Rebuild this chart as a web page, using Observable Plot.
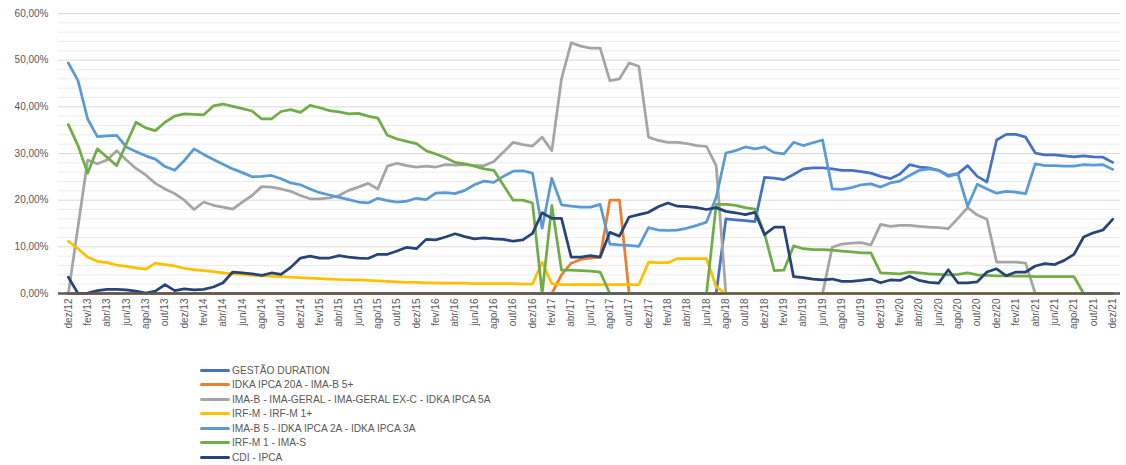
<!DOCTYPE html>
<html><head><meta charset="utf-8">
<script src="https://cdn.jsdelivr.net/npm/d3@7"></script>
<script src="https://cdn.jsdelivr.net/npm/@observablehq/plot@0.6"></script>
<style>
body{margin:0;background:#fff;font-family:"Liberation Sans",Arial,sans-serif;}
#legend{margin-left:200px;margin-top:17.75px;font-size:10.2px;color:#595959;}
.row{display:flex;align-items:center;height:14.5px;white-space:nowrap;}
.sw{width:30px;height:3px;margin-right:2px;border-radius:1.5px;}
</style></head>
<body>
<div id="chart"></div>
<div id="legend"></div>
<script>
const monthNames = ["jan","fev","mar","abr","mai","jun","jul","ago","set","out","nov","dez"];
const years = ["12","13","14","15","16","17","18","19","20","21"];
const months = [];
years.forEach((y, yi) => monthNames.forEach((m, mi) => { if (yi > 0 || mi === 11) months.push(m + "/" + y); }));
const tickMonths = months.filter((d, i) => i % 2 === 0);

const seriesNames = [
  "GESTÃO DURATION",
  "IDKA IPCA 20A - IMA-B 5+",
  "IMA-B - IMA-GERAL - IMA-GERAL EX-C - IDKA IPCA 5A",
  "IRF-M - IRF-M 1+",
  "IMA-B 5 - IDKA IPCA 2A - IDKA IPCA 3A",
  "IRF-M 1 - IMA-S",
  "CDI - IPCA"
];
const seriesColors = ["#4472C4","#ED7D31","#A5A5A5","#FFC000","#5B9BD5","#70AD47","#264478"];

const gestaoDuration = [
 0,0,0,0,0,0,0,0,0,0, 0,0,0,0,0,0,0,0,0,0, 0,0,0,0,0,0,0,0,0,0,
 0,0,0,0,0,0,0,0,0,0, 0,0,0,0,0,0,0,0,0,0, 0,0,0,0,0,0,0,0,0,0,
 0,0,0,0,0,0,0,0,
 16.0,15.8,15.6,15.4,24.9,24.7,24.4,25.5,26.7,26.9,26.9,26.7,26.4,26.4,26.1,25.8,25.1,24.6,25.6,27.6,
 27.1,26.9,26.4,25.3,25.7,27.4,25.1,23.9,32.9,34.1,34.1,33.5,30.1,29.7,29.7,29.5,29.3,29.5,29.3,29.2,28.1];
const idkaIpca20A = [
 0,0,0,0,0,0,0,0,0,0, 0,0,0,0,0,0,0,0,0,0, 0,0,0,0,0,0,0,0,0,0,
 0,0,0,0,0,0,0,0,0,0, 0,0,0,0,0,0,0,0,0,0, 0,
 4.0,6.5,7.3,7.6,7.8,20.0,20.0,0,
 0,0,0,0,0,0,0,0,0,0, 0,0,0,0,0,0,0,0,0,0, 0,0,0,0,0,0,0,0,0,0,
 0,0,0,0,0,0,0,0,0,0, 0,0,0,0,0,0,0,0,0,0];
const imaB = [
 0,14.3,28.6,27.8,28.6,30.6,28.6,26.8,25.4,23.6,22.4,21.4,20.0,18.0,19.6,18.9,18.5,18.1,19.6,21.0,
 22.9,22.8,22.4,21.9,21.0,20.3,20.3,20.5,21.0,22.1,22.8,23.6,22.4,27.3,27.9,27.4,27.1,27.3,27.1,27.6,
 27.5,27.6,27.4,27.4,28.3,30.3,32.4,31.9,31.6,33.5,30.6,46.0,53.7,53.0,52.6,52.6,45.6,46.0,49.4,48.7,
 33.5,32.8,32.4,32.4,32.1,31.7,31.5,27.4,0,0,0,0,0,0,0,0,0,0,0,9.9,
 10.6,10.8,10.9,10.4,14.8,14.4,14.6,14.6,14.4,14.2,14.1,13.9,16.1,18.4,16.8,15.9,6.7,6.7,6.7,6.5,
 0,0,0,0,0,0,0,0,0];
const irfM = [
 11.2,9.6,7.8,6.9,6.6,6.1,5.8,5.5,5.2,6.5,6.2,5.9,5.4,5.1,4.9,4.7,4.4,4.2,4.1,3.9,
 3.8,3.7,3.6,3.5,3.4,3.3,3.2,3.1,3.0,2.9,2.9,2.8,2.7,2.6,2.5,2.4,2.4,2.3,2.3,2.2,
 2.2,2.2,2.1,2.1,2.1,2.1,2.1,2.0,2.0,6.7,2.1,1.9,1.9,1.9,1.9,1.9,1.9,1.9,1.9,1.9,
 6.7,6.6,6.6,7.5,7.5,7.5,7.5,1.4,
 0,0,0,0,0,0,0,0,0,0, 0,0,0,0,0,0,0,0,0,0, 0,0,0,0,0,0,0,0,0,0,
 0,0,0,0,0,0,0,0,0,0,0];
const imaB5 = [
 49.4,45.6,37.4,33.6,33.8,33.9,31.4,30.4,29.5,28.8,27.2,26.4,28.5,31.0,29.8,28.7,27.7,26.7,25.9,25.0,
 25.1,25.3,24.6,23.7,23.3,22.4,21.6,21.1,20.6,20.1,19.6,19.4,20.4,19.9,19.6,19.8,20.4,20.1,21.5,21.6,
 21.4,22.1,23.3,24.1,23.8,25.1,26.2,26.3,25.8,14.0,24.7,19.0,18.7,18.5,18.5,19.1,10.6,10.4,10.3,10.1,
 14.1,13.6,13.5,13.6,14.0,14.6,15.3,20.6,30.1,30.6,31.4,31.0,31.4,30.2,29.9,32.4,31.7,32.3,32.9,22.4,
 22.3,22.7,23.3,23.5,22.8,23.7,24.1,25.3,26.4,26.7,26.4,25.1,25.6,18.7,23.4,22.4,21.5,21.9,21.7,21.4,
 27.8,27.4,27.4,27.3,27.3,27.6,27.5,27.6,26.6];
const irfM1 = [
 36.2,31.7,25.8,31.0,29.2,27.4,32.1,36.7,35.5,34.9,36.7,38.0,38.5,38.4,38.3,40.2,40.6,40.1,39.6,39.1,
 37.4,37.4,39.0,39.4,38.8,40.3,39.8,39.2,38.9,38.5,38.6,38.0,37.6,33.9,33.1,32.6,32.1,30.6,29.9,29.1,
 28.1,27.8,27.3,26.7,26.4,23.2,20.0,20.0,19.4,0,18.9,5.0,5.0,4.9,4.8,4.6,0,0,0,0,
 0,0,0,0,0,0,0,19.1,19.1,18.9,18.4,18.1,12.8,4.9,5.0,10.2,9.6,9.4,9.4,9.3,
 9.1,8.9,8.7,8.7,4.4,4.3,4.2,4.6,4.4,4.2,4.1,4.0,4.1,4.4,4.0,3.9,3.8,3.8,3.7,3.7,
 3.6,3.6,3.6,3.6,3.6,0,0,0,0];
const cdiIpca = [
 3.5,0.0,0.1,0.6,0.9,0.9,0.8,0.5,0.1,0.5,1.9,0.6,1.0,0.8,0.9,1.4,2.3,4.6,4.4,4.2,
 3.9,4.4,4.1,5.6,7.6,8.0,7.6,7.6,8.1,7.8,7.6,7.5,8.4,8.4,9.1,9.9,9.6,11.6,11.5,12.1,
 12.8,12.2,11.7,11.9,11.7,11.6,11.2,11.5,12.9,17.3,16.1,16.1,7.8,7.8,8.1,7.8,13.1,12.3,16.4,16.9,
 17.4,18.6,19.4,18.7,18.6,18.4,18.0,18.4,17.6,17.3,16.9,17.4,12.6,14.2,14.2,3.6,3.4,3.1,2.9,3.1,
 2.6,2.6,2.8,3.1,2.3,2.9,2.8,3.7,2.8,2.4,2.2,5.1,2.3,2.3,2.5,4.6,5.3,3.8,4.6,4.6,
 5.9,6.4,6.2,7.1,8.4,12.1,13.0,13.6,15.9];

const seriesValues = [gestaoDuration, idkaIpca20A, imaB, irfM, imaB5, irfM1, cdiIpca];
const rows = [];
seriesValues.forEach((vals, s) => vals.forEach((v, i) => rows.push({series: seriesNames[s], month: months[i], value: v})));

const majorTicks = [0,10,20,30,40,50,60];
const minorTicks = [2,4,6,8,12,14,16,18,22,24,26,28,32,34,36,38,42,44,46,48,52,54,56,58];
const pct = d => d.toFixed(2).replace(".", ",") + "%";

const chart = Plot.plot({
  width: 1126, height: 345,
  marginLeft: 58, marginRight: 6, marginTop: 13, marginBottom: 52,
  style: {fontFamily: '"Liberation Sans", Arial, sans-serif', fontSize: "10px", color: "#595959", background: "#fff"},
  x: {type: "point", domain: months, range: [63, 1117]},
  y: {domain: [0, 60]},
  color: {domain: seriesNames, range: seriesColors},
  marks: [
    Plot.ruleY(minorTicks, {stroke: "#ebebeb", strokeWidth: 1}),
    Plot.ruleY(majorTicks.filter(d => d > 0), {stroke: "#d9d9d9", strokeWidth: 1}),
    Plot.lineY(rows, {x: "month", y: "value", z: "series", stroke: "series", strokeWidth: 2.75, strokeLinejoin: "round", strokeLinecap: "round"}),
    Plot.ruleY([0], {stroke: "#595959", strokeWidth: 2.5}),
    Plot.axisY(majorTicks, {tickSize: 0, tickPadding: 10, tickFormat: pct, color: "#595959", label: null}),
    Plot.axisX(tickMonths, {tickSize: 0, tickPadding: 5, tickRotate: -90, color: "#595959", label: null})
  ]
});
document.getElementById("chart").appendChild(chart);

const legend = document.getElementById("legend");
seriesNames.forEach((n, i) => {
  const r = document.createElement("div"); r.className = "row";
  const sw = document.createElement("div"); sw.className = "sw"; sw.style.background = seriesColors[i];
  const t = document.createElement("span"); t.textContent = n;
  r.appendChild(sw); r.appendChild(t); legend.appendChild(r);
});
</script>
</body></html>
